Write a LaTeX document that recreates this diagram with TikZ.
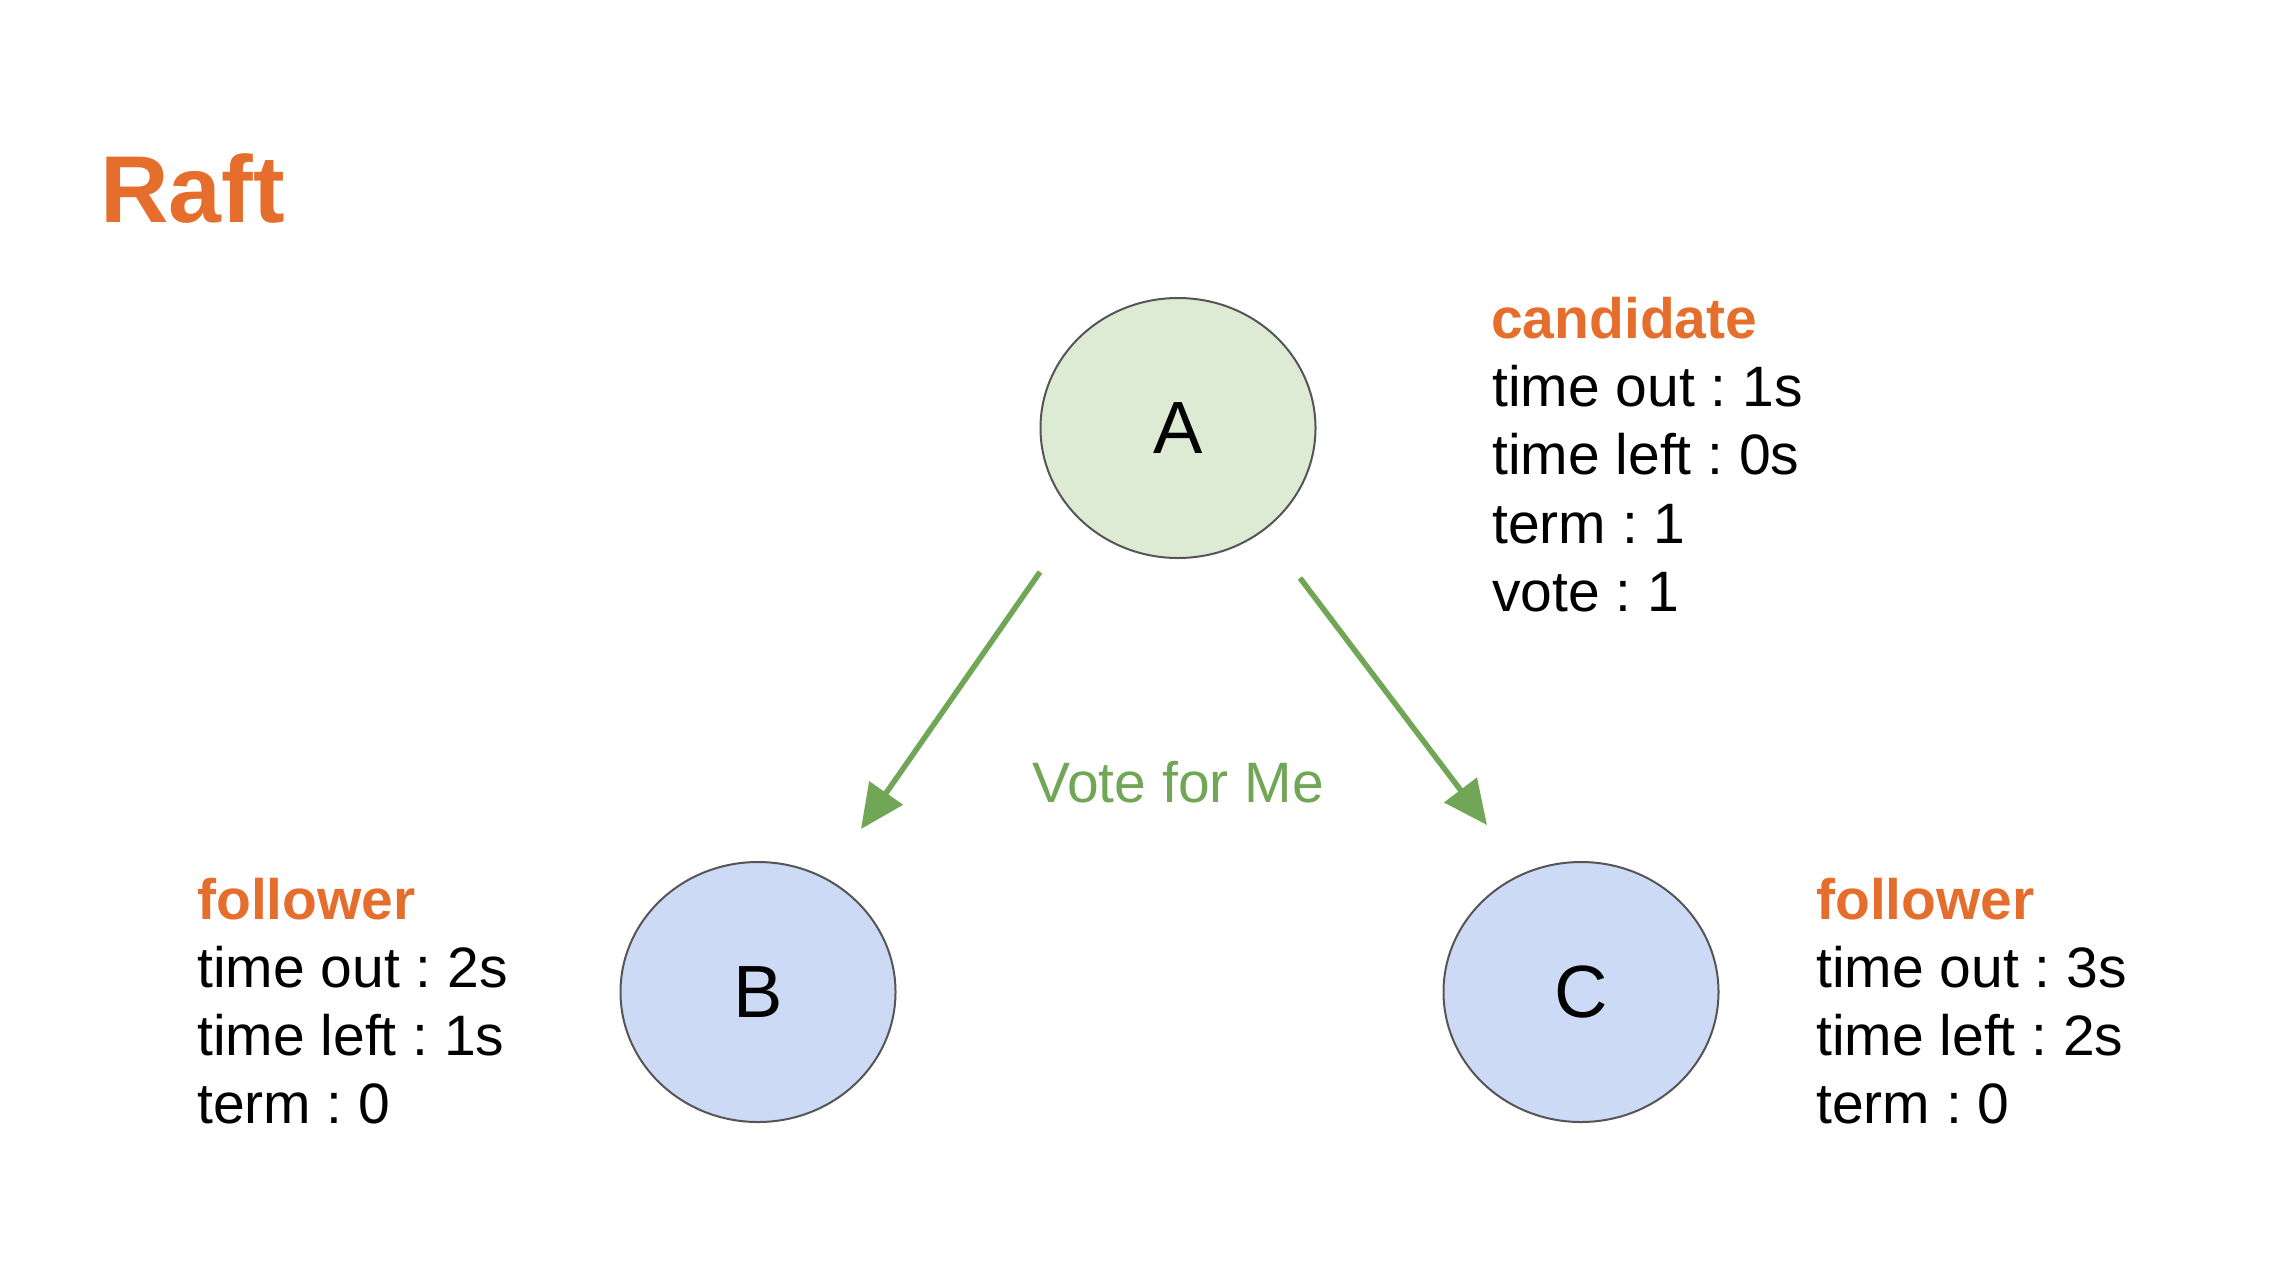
\documentclass[tikz,border=0pt]{standalone}
\usepackage{fontspec}
\setmainfont{Liberation Sans}
\usetikzlibrary{arrows.meta,shapes.geometric}
\frenchspacing
\definecolor{accent}{RGB}{230,110,45}
\definecolor{votegreen}{RGB}{112,166,86}
\definecolor{nodegreen}{RGB}{221,234,212}
\definecolor{nodeblue}{RGB}{204,218,245}
\definecolor{edgegray}{RGB}{85,85,85}
\tikzset{
  server/.style={ellipse, draw=edgegray, line width=2bp, minimum width=275bp, minimum height=260bp, inner sep=0pt, font=\fontsize{74bp}{80bp}\selectfont},
  info/.style={anchor=base west, inner sep=0pt, font=\fontsize{57bp}{68bp}\selectfont},
  role/.style={info, text=accent, font=\fontsize{57bp}{68bp}\selectfont\bfseries},
  vote/.style={draw=votegreen, line width=5.5bp, -{Triangle[length=44bp,width=40bp]}}
}
\begin{document}
\begin{tikzpicture}[x=1bp,y=-1bp]
\useasboundingbox (0,0) rectangle (2278,1278);
\node[anchor=base west, inner sep=0pt, text=accent, font=\fontsize{95bp}{100bp}\selectfont\bfseries] (title) at (100,222) {Raft};

\node[server, fill=nodegreen] (A) at (1178,428) {A};
\node[server, fill=nodeblue] (B) at (758,992) {B};
\node[server, fill=nodeblue] (C) at (1581,992) {C};

\coordinate (ab1) at (1040,572);
\coordinate (ab2) at (861,829);
\coordinate (ac1) at (1300,578);
\coordinate (ac2) at (1487,825);
\draw[vote] (ab1) -- (ab2);
\draw[vote] (ac1) -- (ac2);
\node[font=\fontsize{57bp}{68bp}\selectfont, text=votegreen, inner sep=0pt] (votelbl) at (1178,782) {Vote for Me};

\node[role] (candA) at (1491,338) {candidate};
\node[info] (a1) at (1492,406) {time out : 1s};
\node[info] (a2) at (1492,474) {time left : 0s};
\node[info] (a3) at (1492,543) {term : 1};
\node[info] (a4) at (1492,611) {vote : 1};

\node[role] (follB) at (197,919) {follower};
\node[info] (b1) at (197,987) {time out : 2s};
\node[info] (b2) at (197,1055) {time left : 1s};
\node[info] (b3) at (197,1123) {term : 0};

\node[role] (follC) at (1816,919) {follower};
\node[info] (c1) at (1816,987) {time out : 3s};
\node[info] (c2) at (1816,1055) {time left : 2s};
\node[info] (c3) at (1816,1123) {term : 0};
\end{tikzpicture}
\end{document}
